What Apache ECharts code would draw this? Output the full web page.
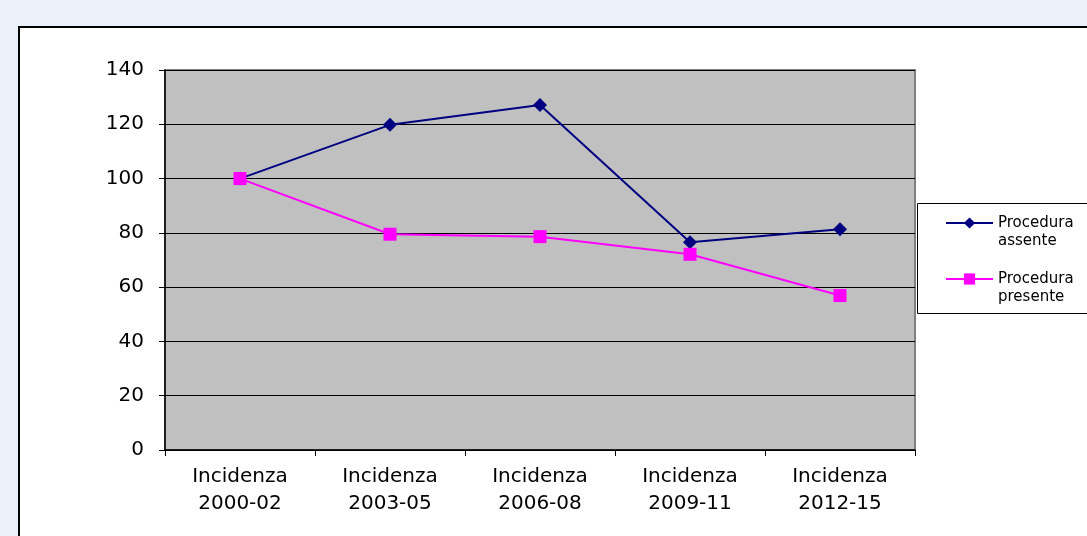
<!DOCTYPE html>
<html>
<head>
<meta charset="utf-8">
<script src="https://cdn.jsdelivr.net/npm/echarts@6/dist/echarts.min.js"></script>
<style>
  html, body { margin: 0; padding: 0; background: #eaf1f9; }
  #chart { width: 1087px; height: 536px; }
</style>
</head>
<body>
<div id="chart"></div>
<script>
// periodi di incidenza
const categories = ['Incidenza\n2000-02', 'Incidenza\n2003-05', 'Incidenza\n2006-08', 'Incidenza\n2009-11', 'Incidenza\n2012-15']
const assente = [100, 119.8, 127.1, 76.5, 81.3]
const presente = [100, 79.5, 78.6, 72.1, 56.9]
const seriesNames = ['Procedura\nassente', 'Procedura\npresente']

const chart = echarts.init(document.getElementById('chart'))

const labelFont = 'DejaVu Sans, sans-serif'

const option = {
  backgroundColor: '#eaf1f9',
  animation: false,
  graphic: [
    {
      // pannello bianco
      type: 'rect',
      z: -10,
      shape: { x: 19, y: 27, width: 1100, height: 560 },
      style: { fill: '#fff', stroke: '#000', lineWidth: 2 }
    },
    {
      // riquadro legenda
      type: 'rect',
      z: -5,
      shape: { x: 917.5, y: 203.5, width: 200, height: 110 },
      style: { fill: '#fff', stroke: '#000', lineWidth: 1 }
    }
  ],
  grid: {
    left: 165,
    top: 70,
    right: 172,
    bottom: 86,
    show: true,
    backgroundColor: '#c0c0c0',
    borderColor: '#808080',
    borderWidth: 2
  },
  legend: {
    orient: 'vertical',
    left: 940,
    top: 191,
    itemWidth: 47,
    itemHeight: 14,
    itemGap: 2,
    data: seriesNames,
    // riga vuota in testa: il simbolo resta allineato alla prima riga
    formatter: name => ' \n' + name,
    textStyle: {
      fontFamily: labelFont,
      fontSize: 15,
      lineHeight: 18,
      color: '#000'
    }
  },
  xAxis: {
    type: 'category',
    data: categories,
    axisLine: { lineStyle: { color: '#000', width: 1.5 } },
    axisTick: { show: true, length: 6, lineStyle: { color: '#000' } },
    axisLabel: {
      color: '#000',
      fontFamily: labelFont,
      fontSize: 20,
      lineHeight: 27,
      margin: 13
    }
  },
  yAxis: {
    type: 'value',
    min: 0,
    max: 140,
    interval: 20,
    axisLine: { show: true, lineStyle: { color: '#000', width: 1.5 } },
    axisTick: { show: true, length: 6, lineStyle: { color: '#000' } },
    axisLabel: {
      color: '#000',
      fontFamily: labelFont,
      fontSize: 20,
      margin: 21
    },
    splitLine: { lineStyle: { color: '#000', width: 1 } }
  },
  series: [
    {
      name: seriesNames[0],
      type: 'line',
      data: assente,
      color: '#000080',
      symbol: 'diamond',
      symbolSize: 14,
      lineStyle: { width: 2 },
      z: 3
    },
    {
      name: seriesNames[1],
      type: 'line',
      data: presente,
      color: '#ff00ff',
      symbol: 'rect',
      symbolSize: 13,
      lineStyle: { width: 2 },
      z: 4
    }
  ]
}

chart.setOption(option)
</script>
</body>
</html>
